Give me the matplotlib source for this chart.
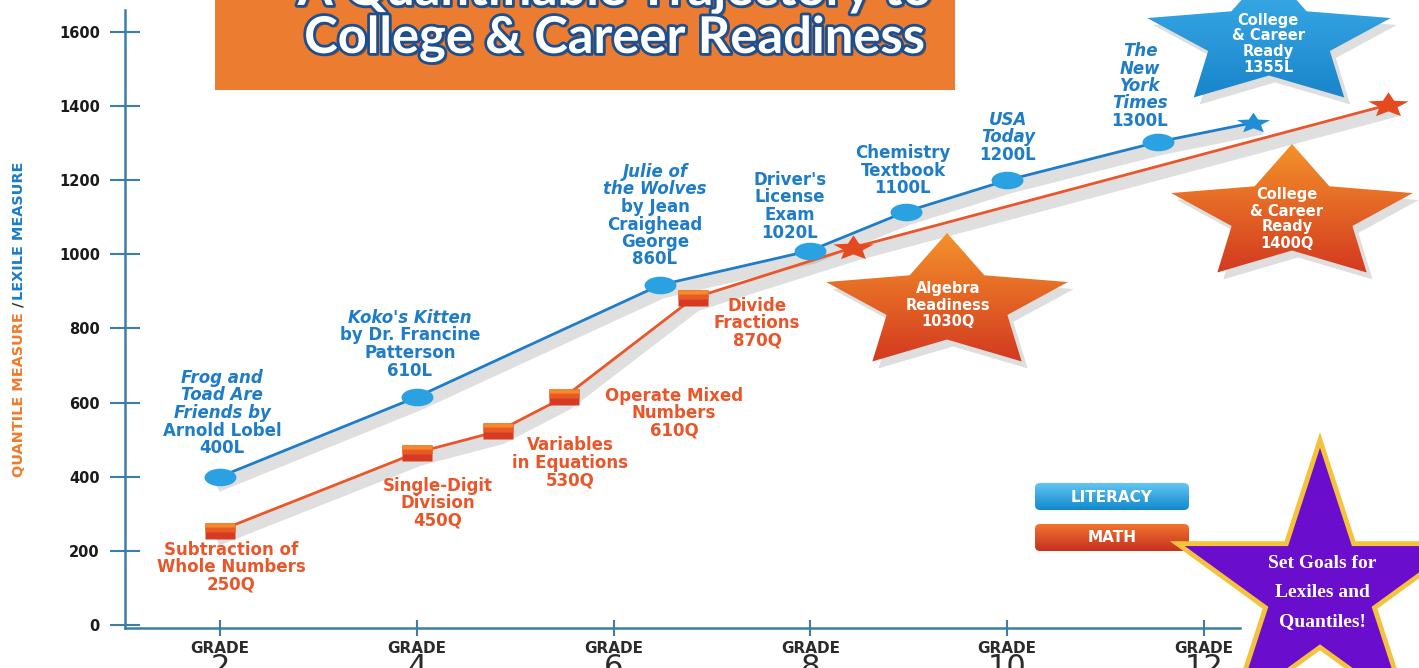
import numpy as np
import matplotlib
matplotlib.use("Agg")
import matplotlib.pyplot as plt
from matplotlib.path import Path
from matplotlib.patches import Polygon, Rectangle, FancyBboxPatch
from matplotlib.colors import LinearSegmentedColormap
from matplotlib.transforms import Affine2D, blended_transform_factory
import matplotlib.patheffects as pe

# ---------------- data ----------------
lit_grades = [2, 4, 6.47, 8, 8.97, 10, 11.53, 12.5]
lit_values = [400, 615, 917, 1010, 1115, 1200, 1303, 1355]
math_grades = [2, 4, 4.83, 5.5, 6.81, 8.43, 13.87]
math_values = [255, 465, 523, 615, 882, 1018, 1403]
grade_ticks = [2, 4, 6, 8, 10, 12]
value_ticks = [0, 200, 400, 600, 800, 1000, 1200, 1400, 1600]

lit_labels = [
    [("Frog and", True), ("Toad Are", True), ("Friends by", True), ("Arnold Lobel", False), ("400L", False)],
    [("Koko's Kitten", True), ("by Dr. Francine", False), ("Patterson", False), ("610L", False)],
    [("Julie of", True), ("the Wolves", True), ("by Jean", False), ("Craighead", False), ("George", False), ("860L", False)],
    [("Driver's", False), ("License", False), ("Exam", False), ("1020L", False)],
    [("Chemistry", False), ("Textbook", False), ("1100L", False)],
    [("USA", True), ("Today", True), ("1200L", False)],
    [("The", True), ("New", True), ("York", True), ("Times", True), ("1300L", False)],
]
math_labels = [
    ["Subtraction of", "Whole Numbers", "250Q"],
    ["Single-Digit", "Division", "450Q"],
    ["Variables", "in Equations", "530Q"],
    ["Operate Mixed", "Numbers", "610Q"],
    ["Divide", "Fractions", "870Q"],
]
goal_lit = ["College", "& Career", "Ready", "1355L"]
goal_math = ["College", "& Career", "Ready", "1400Q"]
algebra = ["Algebra", "Readiness", "1030Q"]
title_lines = ["A Quantifiable Trajectory to", "College & Career Readiness"]
purple_lines = ["Set Goals for", "Lexiles and", "Quantiles!"]

# ---------------- layout (pixel positions) ----------------
lit_label_pos = [(222, 378), (410, 318), (655, 172), (790, 180), (903, 153), (1008, 120), (1140, 51)]
math_label_pos = [(231, 550), (438, 486), (570, 445), (674, 396), (757, 306)]

BLUE = "#1f7cc6"
ORANGE = "#e8562a"
AXC = "#3c7ea5"
W, H = 1419, 668

fig = plt.figure(figsize=(W / 100, H / 100), dpi=100, facecolor="white")
ax = fig.add_axes([125 / W, 40 / H, 1 - 125 / W, 628 / H])
ax.set_xlim(1.035, 14.185)
ax.set_ylim(-8, 1686)
for s in ["top", "right"]:
    ax.spines[s].set_visible(False)
for s in ["left", "bottom"]:
    ax.spines[s].set_color(AXC)
    ax.spines[s].set_linewidth(1.8)
ax.spines["left"].set_bounds(-8, 1658)
ax.spines["bottom"].set_bounds(1.035, 12.37)

ax.set_yticks(value_ticks)
ax.set_yticklabels([str(v) for v in value_ticks], fontsize=10.5, fontweight="bold", color="#1a1a1a")
ax.tick_params(axis="y", direction="inout", length=21.6, width=1.5, color=AXC, pad=7.2)
ax.set_xticks(grade_ticks)
ax.set_xticklabels(["GRADE"] * len(grade_ticks), fontsize=11, fontweight="bold", color="#2b2b2b")
ax.tick_params(axis="x", direction="inout", length=11.5, width=1.5, color=AXC, pad=3.5)

# markers
ell = Path.unit_circle().transformed(Affine2D().scale(1, 0.55))
def rect(y0, y1):
    return Path([(-1, y0), (1, y0), (1, y1), (-1, y1), (-1, y0)], closed=True)
ang = np.deg2rad(90 + np.arange(10) * 36)
rad = np.where(np.arange(10) % 2 == 0, 1.0, 0.45)
star_m = Path(np.c_[rad * np.cos(ang), 0.62 * rad * np.sin(ang)], closed=False)

shadow = [pe.SimpleLineShadow(offset=(2, -5), shadow_color="#808080", alpha=0.25, linewidth=9), pe.Normal()]
ax.plot(lit_grades, lit_values, color=BLUE, lw=2.0, zorder=3, path_effects=shadow, clip_on=False)
ax.plot(math_grades, math_values, color=ORANGE, lw=2.0, zorder=3, path_effects=shadow, clip_on=False)

ax.plot(lit_grades[:-1], lit_values[:-1], ls="none", marker=ell, ms=23, mfc="#2aa2e2", mec="none", zorder=4)
ax.plot(lit_grades[-1:], lit_values[-1:], ls="none", marker=star_m, ms=24, mfc="#1e8fd6", mec="none", zorder=4, clip_on=False)
ax.plot(math_grades[:5], math_values[:5], ls="none", marker=rect(-0.55, 0.55), ms=21, mfc="#d63a22", mec="none", zorder=4)
ax.plot(math_grades[:5], math_values[:5], ls="none", marker=rect(-0.1, 0.55), ms=21, mfc="#e95a25", mec="none", zorder=4)
ax.plot(math_grades[:5], math_values[:5], ls="none", marker=rect(0.25, 0.55), ms=21, mfc="#f48a2a", mec="none", zorder=4)
ax.plot(math_grades[5:], math_values[5:], ls="none", marker=star_m, ms=29, mfc="#e4491f", mec="none", zorder=4, clip_on=False)

# ---------------- overlay (pixel coords) ----------------
ov = fig.add_axes([0, 0, 1, 1], zorder=5)
ov.set_xlim(0, W)
ov.set_ylim(H, 0)
ov.axis("off")

blend = blended_transform_factory(ax.transData, ov.transData)
for g in grade_ticks:
    ax.text(g, 653, str(g), transform=blend, ha="center", va="top", fontsize=22, color="#2b2b2b", clip_on=False)

def lines_text(lines, cx, y0, color, step=17.5, size=12, italic_flags=None, **kw):
    for i, t in enumerate(lines):
        it = italic_flags[i] if italic_flags else False
        ov.text(cx, y0 + i * step, t, ha="center", va="center", color=color, fontsize=size,
                fontweight="bold", fontstyle="italic" if it else "normal", **kw)

for lab, (cx, cy) in zip(lit_labels, lit_label_pos):
    lines_text([t for t, _ in lab], cx, cy, BLUE, italic_flags=[i for _, i in lab])
for lab, (cx, cy) in zip(math_labels, math_label_pos):
    lines_text(lab, cx, cy, ORANGE)

def grad_fill(patch, c_top, c_bot, x0, x1, y0, y1, z):
    patch.set_facecolor("none")
    patch.set_edgecolor("none")
    patch.set_zorder(z)
    ov.add_patch(patch)
    cmap = LinearSegmentedColormap.from_list("g", [c_top, c_bot])
    im = ov.imshow(np.linspace(0, 1, 256).reshape(-1, 1), cmap=cmap, extent=(x0, x1, y1, y0),
                   origin="upper", aspect="auto", zorder=z, interpolation="bilinear")
    im.set_clip_path(patch)

def star_xy(cx, cy, rx, ry, inner):
    a = np.deg2rad(90 + np.arange(10) * 36)
    r = np.where(np.arange(10) % 2 == 0, 1.0, inner)
    return np.c_[cx + rx * r * np.cos(a), cy - ry * r * np.sin(a)]

def big_star(cx, cy, rx, ry, inner, c_top, c_bot):
    xy = star_xy(cx, cy, rx, ry, inner)
    ov.add_patch(Polygon(xy + [6, 7], closed=True, fc="black", ec="none", alpha=0.13, zorder=1))
    grad_fill(Polygon(xy, closed=True), c_top, c_bot, cx - rx, cx + rx, cy - ry, cy + ry, 2)

# title box
ov.add_patch(Rectangle((215, 0), 740, 90, fc="#ec7c30", ec="none", zorder=1))
tpe = [pe.SimplePatchShadow(offset=(2, -2), shadow_rgbFace="#4a2a10", alpha=0.45),
       pe.withStroke(linewidth=4, foreground="#1d4f8f")]
ov.text(615, 5, title_lines[0], ha="center", va="baseline", fontsize=36.5, color="white",
        fontweight="bold", family="Lato", path_effects=tpe, zorder=3)
ov.text(615, 53, title_lines[1], ha="center", va="baseline", fontsize=36.5, color="white",
        fontweight="bold", family="Lato", path_effects=tpe, zorder=3)

# goal stars
big_star(1269, 40, 128, 71, 0.5, "#3fb0ea", "#1580c8")
lines_text(goal_lit, 1268, 20, "white", step=15.7, size=10.5)
big_star(1292, 215, 127, 71, 0.5, "#f4922a", "#d0301f")
lines_text(goal_math, 1287, 195, "white", step=16, size=10.5)
big_star(947, 304, 127, 71, 0.5, "#f4922a", "#d0301f")
lines_text(algebra, 948, 288, "white", step=17, size=10.5)

# legend boxes
for (label, y0, ct, cb) in [("LITERACY", 483, "#62c6f2", "#0e86cc"), ("MATH", 524, "#f3742e", "#c22e1e")]:
    box = FancyBboxPatch((1038, y0 + 3), 148, 21, boxstyle="round,pad=3,rounding_size=5")
    grad_fill(box, ct, cb, 1030, 1195, y0, y0 + 28, 2)
    ov.text(1112, y0 + 14, label, ha="center", va="center", color="white", fontsize=11,
            fontweight="bold", zorder=3)

# purple star
pxy = star_xy(1320, 590, 150, 150, 0.382)
ov.add_patch(Polygon(pxy, closed=True, fc="#6a0dcc", ec="#f5c23c", lw=3.5, joinstyle="miter", zorder=2))
for i, t in enumerate(purple_lines):
    ov.text(1322, 563 + i * 29.5, t, ha="center", va="center", color="white", fontsize=14,
            fontweight="bold", family="Liberation Serif", zorder=3)

# y-axis label
ov.text(19, 395, "QUANTILE MEASURE", rotation=90, ha="center", va="center", color="#f07a2a",
        fontsize=10.4, fontweight="bold", family="DejaVu Sans")
ov.text(19, 304, "/", rotation=90, ha="center", va="center", color="#333333",
        fontsize=10.4, fontweight="bold", family="DejaVu Sans")
ov.text(19, 231, "LEXILE MEASURE", rotation=90, ha="center", va="center", color="#1b7cc8",
        fontsize=10.4, fontweight="bold", family="DejaVu Sans")

ov.set_xlim(0, W)
ov.set_ylim(H, 0)
fig.savefig("out.png", dpi=100)
